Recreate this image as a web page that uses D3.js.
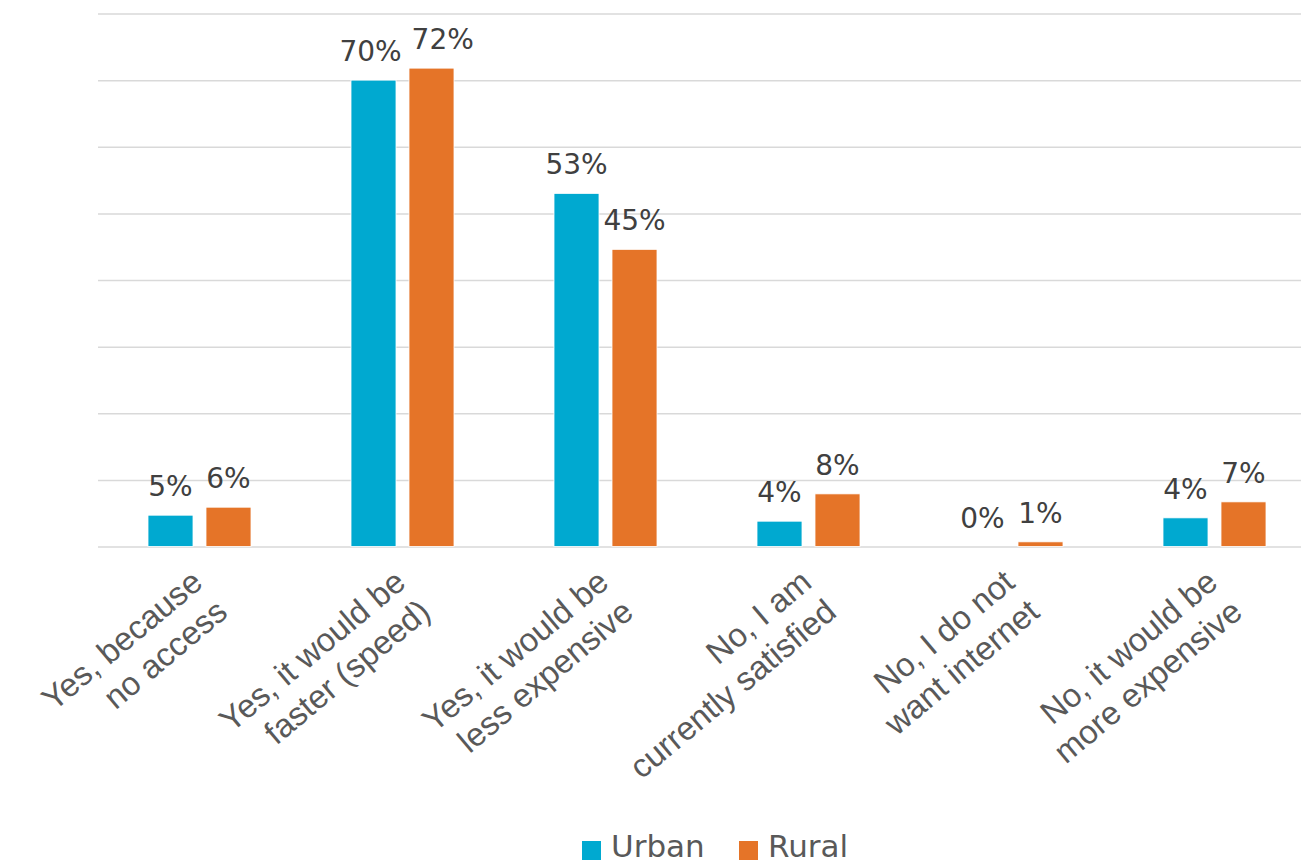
<!DOCTYPE html>
<html>
<head>
<meta charset="utf-8">
<script src="https://cdn.jsdelivr.net/npm/d3@7"></script>
<style>
  html, body { margin: 0; padding: 0; background: #fff; }
  svg { display: block; font-family: "DejaVu Sans", sans-serif; }
</style>
</head>
<body>
<script>
// data
var categories = [
    ["Yes, because", "no access"],
    ["Yes, it would be", "faster (speed)"],
    ["Yes, it would be", "less expensive"],
    ["No, I am", "currently satisfied"],
    ["No, I do not", "want internet"],
    ["No, it would be", "more expensive"]
];
var series = ["Urban", "Rural"];
var urban = [4.7, 70.0, 53.0, 3.8, 0, 4.3];
var rural = [5.9, 71.8, 44.6, 7.9, 0.7, 6.7];
var yTicks = [0, 10, 20, 30, 40, 50, 60, 70, 80];
var colors = ["#00a9d0", "#e57428"];

var W = 1301, H = 865;
var left_ = 98, top_ = 13.5, bottom_ = 546.5, step_ = 203;

var svg = d3.select("body").append("svg")
            .attr("width", W)
            .attr("height", H);

var keys = categories.map((c, i) => "c" + i);

var x0 = d3.scaleBand()
            .domain(keys)
            .range([left_, left_ + step_ * keys.length])
            .padding(0);

var x1 = d3.scaleBand()
            .domain(series)
            .range([-51.5, 51.5])
            .paddingInner(0.224);

var y = d3.scaleLinear()
            .domain([0, 80])
            .range([bottom_, top_]);

// gridlines
var grid = svg.append("g")
            .attr("transform", "translate(" + left_ + ",0)")
            .call(d3.axisLeft(y).tickValues(yTicks).tickSize(-(W - left_)).tickFormat(""));
grid.select(".domain").remove();
grid.selectAll("line")
    .attr("stroke", "#d9d9d9")
    .attr("stroke-width", 1.5);

// bars
var rows = keys.map((k, i) => ({key: k, vals: [urban[i], rural[i]]}));

var groups = svg.append("g").selectAll("g")
            .data(rows)
            .join("g")
            .attr("transform", d => "translate(" + (x0(d.key) + x0.bandwidth() / 2) + ",0)");

groups.selectAll("rect")
    .data(d => d.vals.map((v, j) => ({s: series[j], v: v, j: j})))
    .join("rect")
    .attr("x", d => x1(d.s))
    .attr("y", d => y(d.v))
    .attr("width", x1.bandwidth())
    .attr("height", d => bottom_ - y(d.v))
    .attr("fill", d => colors[d.j])
    .attr("stroke", "#fff")
    .attr("stroke-width", 0.8);

groups.selectAll("text")
    .data(d => d.vals.map((v, j) => ({s: series[j], v: v, j: j})))
    .join("text")
    .attr("x", d => x1(d.s) + x1.bandwidth() / 2)
    .attr("y", d => y(d.v) - 19)
    .attr("text-anchor", "middle")
    .attr("font-size", 28)
    .attr("fill", "#404040")
    .text(d => Math.round(d.v) + "%");

// push a rural label right when it runs into the urban one
groups.each(function() {
    var labels = d3.select(this).selectAll("text").nodes();
    var a = labels[0].getBBox(), b = labels[1].getBBox();
    var vOverlap = a.y < b.y + b.height && b.y < a.y + a.height;
    var gap = (a.x + a.width + 10) - b.x;
    if (vOverlap && gap > 0) {
        d3.select(labels[0]).attr("x", +labels[0].getAttribute("x") - 3);
        d3.select(labels[1]).attr("x", +labels[1].getAttribute("x") + gap - 3);
    }
});

// category axis
var xAxis = svg.append("g")
            .attr("transform", "translate(0," + bottom_ + ")")
            .call(d3.axisBottom(x0).tickSize(0).tickFormat(""));
xAxis.select(".domain").remove();

xAxis.selectAll(".tick").each(function(d, i) {
    var t = d3.select(this).select("text")
                .attr("transform", "translate(5,39) rotate(-40)")
                .attr("text-anchor", "end")
                .attr("font-size", 33)
                .attr("fill", "#595959")
                .attr("y", 0)
                .attr("dy", null);
    categories[i].forEach((line, k) => {
        t.append("tspan")
            .attr("x", 0)
            .attr("dy", k === 0 ? 0 : "1.17em")
            .text(line);
    });
});

// legend
var legend = svg.append("g");
var legendX = [582, 739];
series.forEach((s, j) => {
    legend.append("rect")
        .attr("x", legendX[j])
        .attr("y", 841)
        .attr("width", 19)
        .attr("height", 19)
        .attr("fill", colors[j]);
    legend.append("text")
        .attr("x", legendX[j] + 29)
        .attr("y", 857)
        .attr("font-size", 31)
        .attr("fill", "#595959")
        .text(s);
});
</script>
</body>
</html>
